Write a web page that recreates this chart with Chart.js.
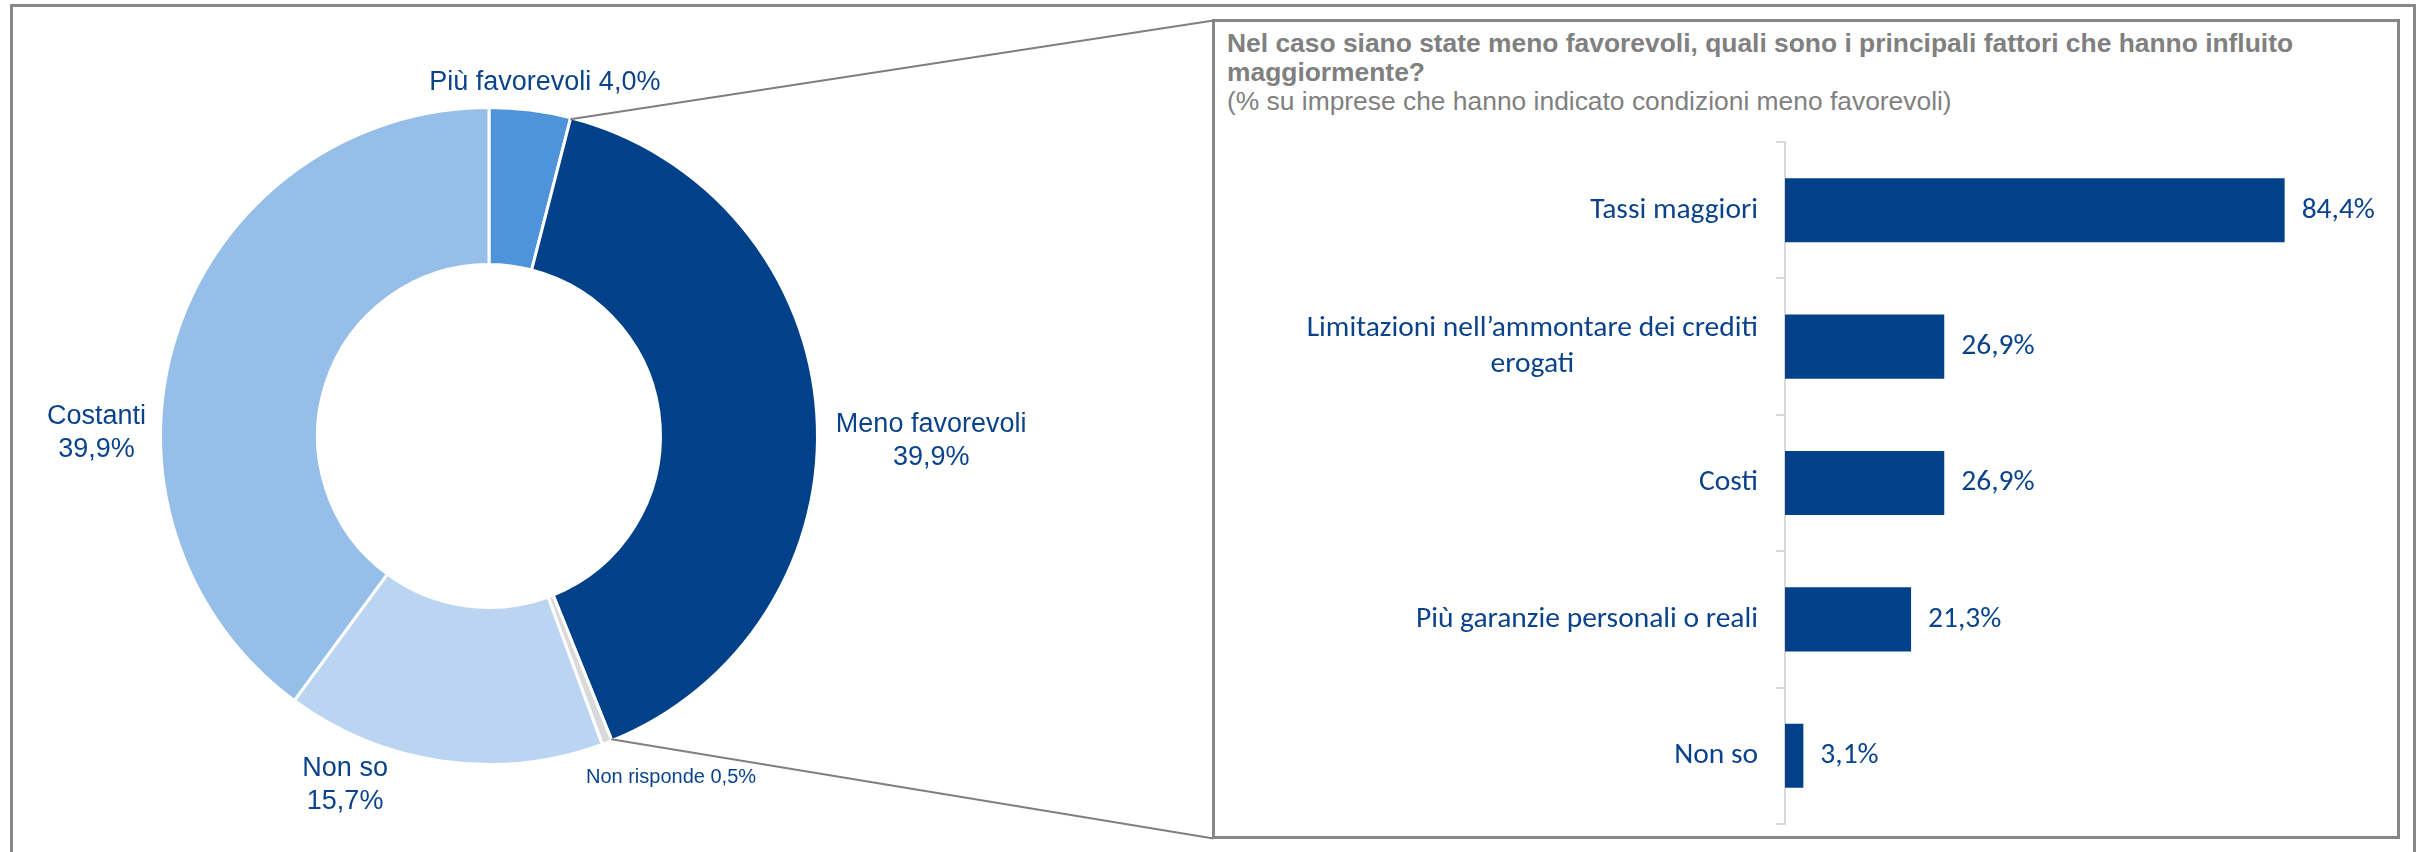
<!DOCTYPE html>
<html>
<head>
<meta charset="utf-8">
<script src="https://cdn.jsdelivr.net/npm/chart.js@4.4.1/dist/chart.umd.min.js"></script>
<style>
  html, body { margin: 0; padding: 0; background: #ffffff; }
  body { width: 2420px; height: 852px; position: relative; overflow: hidden; }
  #frame { position: absolute; left: 10px; top: 4px; width: 2406px; height: 900px; border: 3px solid #888888; box-sizing: border-box; }
  #panel { position: absolute; left: 1212px; top: 19px; width: 1188px; height: 820px; border: 3px solid #878787; box-sizing: border-box; }
  #title { position: absolute; left: 1227px; top: 29px; font-family: 'Liberation Sans', Arial, sans-serif; color: #808080; font-size: 26.4px; line-height: 29px; white-space: nowrap; }
  #donut { position: absolute; left: 0; top: 0; }
  #bars { position: absolute; left: 1215px; top: 100px; }
</style>
</head>
<body>
<div id="frame"></div>
<div id="panel"></div>
<div id="title"><b>Nel caso siano state meno favorevoli, quali sono i principali fattori che hanno influito<br>maggiormente?</b><br>(% su imprese che hanno indicato condizioni meno favorevoli)</div>
<canvas id="donut" width="2420" height="852"></canvas>
<canvas id="bars" width="1180" height="737"></canvas>
<script>
// ---- data ----
const donutLabels = ['Più favorevoli', 'Meno favorevoli', 'Non risponde', 'Non so', 'Costanti'];
const donutValues = [4.0, 39.9, 0.5, 15.7, 39.9];

const barCategories = [
  ['Tassi maggiori'],
  ['Limitazioni nell\u2019ammontare dei crediti', 'erogati'],
  ['Costi'],
  ['Più garanzie personali o reali'],
  ['Non so']
];
const barValues = [84.4, 26.9, 26.9, 21.3, 3.1];

// ---- styles ----
const donutPalette = ['#4F94DB', '#00418A', '#D9D9D9', '#BAD4F1', '#95BEE9'];
const navy = '#00418A';
const textNavy = '#0A438B';
const fmt = v => v.toFixed(1).replace('.', ',') + '%';

// label anchors relative to donut centre, in units of outer radius
const donutLabelLayout = [
  { dx: 0.170, dy: -1.053, split: false, size: 27 },
  { dx: 1.346, dy: -0.012, split: true, size: 27 },
  { dx: 0.554, dy: 1.056, split: false, size: 20 },
  { dx: -0.438, dy: 1.035, split: true, size: 27 },
  { dx: -1.195, dy: -0.037, split: true, size: 27 }
];

const donutLabelPlugin = {
  id: 'donutLabels',
  afterDatasetsDraw(chart) {
    const meta = chart.getDatasetMeta(0);
    const arc0 = meta.data[0];
    const cx = arc0.x, cy = arc0.y, R = arc0.outerRadius;
    const ctx = chart.ctx;
    ctx.save();
    ctx.fillStyle = textNavy;
    ctx.textAlign = 'center';
    ctx.textBaseline = 'alphabetic';
    donutLabels.forEach((lab, i) => {
      const a = donutLabelLayout[i];
      const val = fmt(donutValues[i]);
      const lines = a.split ? [lab, val] : [lab + ' ' + val];
      ctx.font = a.size + "px 'Liberation Sans', Arial, sans-serif";
      lines.forEach((t, j) => ctx.fillText(t, cx + a.dx * R, cy + a.dy * R + j * 33));
    });
    ctx.restore();
  }
};

const connectorPlugin = {
  id: 'connectors',
  afterDraw(chart) {
    const meta = chart.getDatasetMeta(0);
    const panel = document.getElementById('panel').getBoundingClientRect();
    const ctx = chart.ctx;
    const ends = [
      { arc: meta.data[0], x: panel.left + 1.5, y: panel.top + 1.5 },
      { arc: meta.data[1], x: panel.left + 1.5, y: panel.bottom - 0.5 }
    ];
    ctx.save();
    ctx.strokeStyle = '#7F7F7F';
    ctx.lineWidth = 2;
    ends.forEach(e => {
      const a = e.arc;
      const r = a.outerRadius - 1.5;
      ctx.beginPath();
      ctx.moveTo(a.x + r * Math.cos(a.endAngle), a.y + r * Math.sin(a.endAngle));
      ctx.lineTo(e.x, e.y);
      ctx.stroke();
    });
    ctx.restore();
  }
};

new Chart(document.getElementById('donut'), {
  type: 'doughnut',
  data: {
    labels: donutLabels,
    datasets: [{
      data: donutValues,
      backgroundColor: donutPalette,
      borderColor: '#ffffff',
      borderWidth: 3
    }]
  },
  options: {
    responsive: false,
    animation: false,
    devicePixelRatio: 1,
    cutout: '52.2%',
    layout: { padding: { left: 159, top: 106, right: 1601, bottom: 86 } },
    plugins: { legend: { display: false }, tooltip: { enabled: false } }
  },
  plugins: [donutLabelPlugin, connectorPlugin]
});

const barFont = "'Carlito', 'Lato', sans-serif";
const barLabelPlugin = {
  id: 'barLabels',
  afterDatasetsDraw(chart) {
    const ctx = chart.ctx;
    const yScale = chart.scales.y;
    const meta = chart.getDatasetMeta(0);
    ctx.save();
    ctx.fillStyle = textNavy;
    ctx.font = "29.5px " + barFont;
    ctx.textBaseline = 'middle';
    // category labels: block right-aligned, lines centred within block
    const rightEdge = chart.chartArea.left - 27;
    ctx.textAlign = 'center';
    barCategories.forEach((lines, i) => {
      const yc = yScale.getPixelForTick(i);
      const w = Math.max(...lines.map(t => ctx.measureText(t).width));
      const lh = 36;
      const y0 = yc - (lines.length - 1) * lh / 2;
      lines.forEach((t, j) => ctx.fillText(t, rightEdge - w / 2, y0 + j * lh));
    });
    // value labels
    ctx.textAlign = 'left';
    meta.data.forEach((bar, i) => {
      ctx.fillText(fmt(barValues[i]), bar.x + 17, bar.y);
    });
    ctx.restore();
  }
};

new Chart(document.getElementById('bars'), {
  type: 'bar',
  data: {
    labels: barCategories.map(l => l.join(' ')),
    datasets: [{
      data: barValues,
      backgroundColor: navy,
      borderWidth: 0,
      barPercentage: 0.47,
      categoryPercentage: 1.0
    }]
  },
  options: {
    indexAxis: 'y',
    responsive: false,
    animation: false,
    devicePixelRatio: 1,
    layout: { padding: { left: 0, top: 42, right: 18, bottom: 13 } },
    scales: {
      x: { display: false, min: 0, max: 100 },
      y: {
        offset: true,
        grid: { display: true, drawOnChartArea: false, drawTicks: true, tickLength: 9, color: '#D9D9D9', lineWidth: 2, offset: true },
        border: { display: true, color: '#D9D9D9', width: 2 },
        ticks: { display: false },
        afterFit(scale) { scale.width = 570; }
      }
    },
    plugins: { legend: { display: false }, tooltip: { enabled: false } }
  },
  plugins: [barLabelPlugin]
});
</script>
</body>
</html>
